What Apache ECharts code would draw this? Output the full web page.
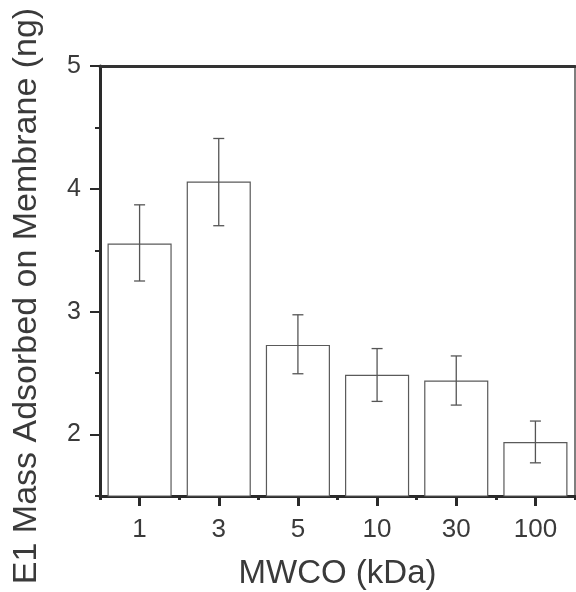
<!DOCTYPE html>
<html>
<head>
<meta charset="utf-8">
<script src="https://cdn.jsdelivr.net/npm/echarts@6/dist/echarts.min.js"></script>
<style>html,body{margin:0;padding:0;background:#fff;}#c{width:576px;height:592px;}</style>
</head>
<body>
<div id="c"></div>
<script>
var categories = ['1', '3', '5', '10', '30', '100'];
var massValues = [3.555, 4.06, 2.73, 2.487, 2.44, 1.94];
var errLow = [3.25, 3.70, 2.495, 2.27, 2.24, 1.77];
var errHigh = [3.87, 4.41, 2.975, 2.70, 2.64, 2.11];
var yTickLabels = [2, 3, 4, 5];

var FONT = '"Liberation Sans", Arial, Helvetica, sans-serif';
var AX = '#2a2a2a';
var TXT = '#3a3a3a';

var chart = echarts.init(document.getElementById('c'), null, {renderer: 'canvas'});
var option = {
  animation: false,
  backgroundColor: '#ffffff',
  grid: {left: 100, right: 1, top: 66, bottom: 96, containLabel: false, outerBoundsMode: 'none'},
  xAxis: [
    {
      type: 'category', data: categories, position: 'bottom',
      name: 'MWCO (kDa)', nameLocation: 'middle', nameGap: 61,
      nameTextStyle: {fontFamily: FONT, fontSize: 33, color: TXT},
      axisLine: {show: true, lineStyle: {color: AX, width: 3}},
      axisTick: {show: true, alignWithLabel: true, length: 10, inside: false, lineStyle: {color: AX, width: 3}},
      axisLabel: {fontFamily: FONT, fontSize: 26, color: TXT, margin: 21},
      splitLine: {show: false}
    },
    {
      type: 'category', data: categories, position: 'bottom', gridIndex: 0,
      axisLine: {show: false},
      axisTick: {show: true, length: 4, lineStyle: {color: AX, width: 3}},
      axisLabel: {show: false},
      splitLine: {show: false}
    },
    {
      type: 'category', data: categories, position: 'top',
      axisLine: {show: true, lineStyle: {color: '#333', width: 3}},
      axisTick: {show: false}, axisLabel: {show: false}, splitLine: {show: false}
    }
  ],
  yAxis: [
    {
      type: 'value', min: 1.5, max: 5, position: 'left',
      name: 'E1 Mass Adsorbed on Membrane (ng)', nameLocation: 'middle', nameGap: 56, nameRotate: 90,
      nameTextStyle: {fontFamily: FONT, fontSize: 34, color: TXT, padding: [0, 30, 0, 0]},
      axisLine: {show: true, lineStyle: {color: AX, width: 3}},
      axisTick: {show: true, length: 10, customValues: yTickLabels, lineStyle: {color: AX, width: 2}},
      axisLabel: {fontFamily: FONT, fontSize: 25, color: TXT, margin: 19, customValues: yTickLabels},
      splitLine: {show: false}
    },
    {
      type: 'value', min: 1.5, max: 5, interval: 0.5, position: 'left',
      axisLine: {show: false},
      axisTick: {show: true, length: 5, lineStyle: {color: AX, width: 2}},
      axisLabel: {show: false}, splitLine: {show: false}
    },
    {
      type: 'value', min: 1.5, max: 5, position: 'right',
      axisLine: {show: true, lineStyle: {color: '#555', width: 1.5}},
      axisTick: {show: false}, axisLabel: {show: false}, splitLine: {show: false}
    }
  ],
  series: [
    {
      type: 'bar', data: massValues, xAxisIndex: 0, yAxisIndex: 0,
      barWidth: '81%',
      itemStyle: {color: '#ffffff', borderColor: '#5a5a5a', borderWidth: 1.2}
    },
    {
      type: 'custom', xAxisIndex: 0, yAxisIndex: 0,
      data: categories.map(function (c, i) { return [i, errLow[i], errHigh[i]]; }),
      renderItem: function (params, api) {
        var lo = api.coord([api.value(0), api.value(1)]);
        var hi = api.coord([api.value(0), api.value(2)]);
        var hw = 5.5;
        var st = {stroke: '#555', lineWidth: 1.3, fill: null};
        return {
          type: 'group',
          children: [
            {type: 'line', shape: {x1: hi[0], y1: hi[1], x2: lo[0], y2: lo[1]}, style: st},
            {type: 'line', shape: {x1: hi[0] - hw, y1: hi[1], x2: hi[0] + hw, y2: hi[1]}, style: st},
            {type: 'line', shape: {x1: lo[0] - hw, y1: lo[1], x2: lo[0] + hw, y2: lo[1]}, style: st}
          ]
        };
      },
      z: 5
    }
  ]
};
chart.setOption(option);
</script>
</body>
</html>
